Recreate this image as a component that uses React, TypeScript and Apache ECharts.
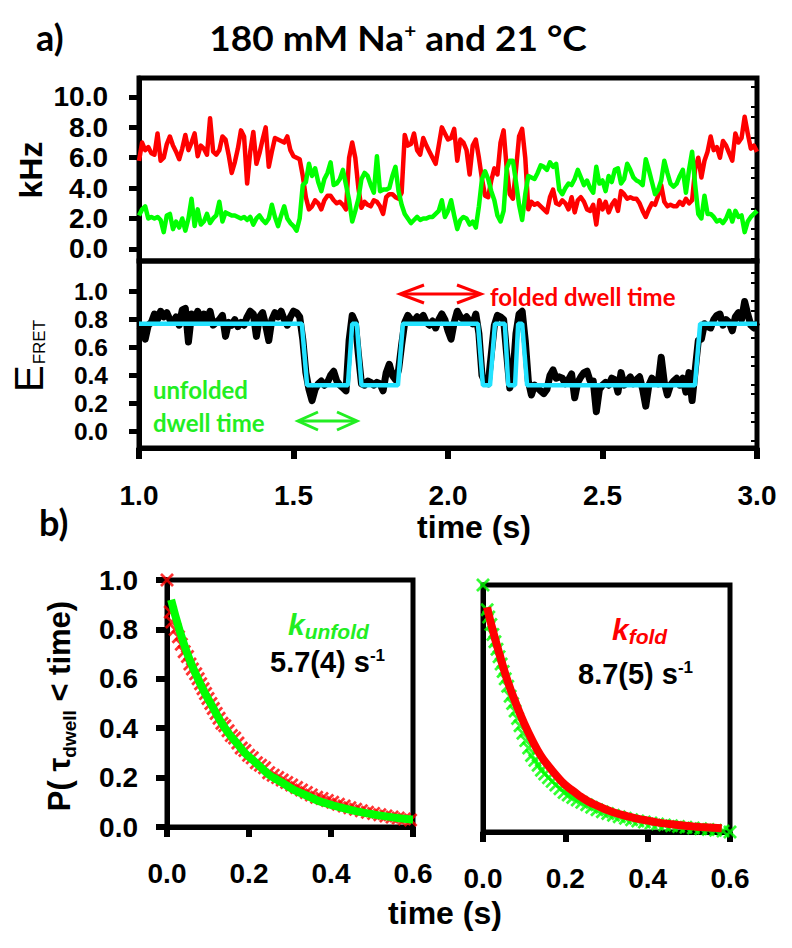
import React, { useEffect, useRef } from 'react';
import * as echarts from 'echarts';

// ---------- data ----------
const T_START = 1.0;
const T_STEP = 0.01;

const RED_KHZ = [
  5.8, 7.0, 6.5, 6.7, 6.3, 6.2, 7.6, 5.8, 6.0, 6.9,
  7.4, 6.8, 6.4, 5.9, 6.6, 7.5, 6.5, 7.0, 7.6, 6.1,
  6.8, 6.6, 6.2, 8.6, 6.4, 6.2, 6.5, 7.4, 7.2, 6.2,
  5.0, 5.7, 6.6, 7.8, 7.4, 4.3, 6.4, 7.7, 5.6, 6.3,
  7.2, 8.0, 5.4, 6.4, 7.3, 7.2, 7.1, 7.0, 7.4, 6.5,
  6.1, 6.0, 5.9, 4.8, 3.4, 2.6, 2.8, 3.2, 3.0, 2.6,
  3.2, 3.5, 3.5, 3.2, 3.0, 3.1, 2.9, 2.6, 6.0, 7.0,
  6.0, 4.0, 2.7, 3.1, 2.9, 2.8, 3.2, 3.1, 2.8, 2.3,
  3.4, 3.6, 3.6, 3.4, 3.3, 3.7, 7.5, 6.8, 6.9, 7.6,
  6.5, 6.2, 7.3, 6.8, 6.4, 6.0, 5.6, 6.8, 8.0, 7.6,
  7.2, 7.3, 7.9, 5.8, 7.2, 7.0, 6.5, 4.9, 6.8, 7.2,
  6.0, 4.6, 3.5, 3.4, 4.5, 5.3, 4.9, 7.0, 7.8, 5.3,
  3.6, 3.3, 5.2, 7.4, 7.9, 6.0, 2.6, 3.1, 2.9, 3.0,
  2.8, 2.6, 2.4, 3.4, 3.9, 3.0, 2.9, 3.2, 3.0, 2.6,
  3.4, 2.4, 3.2, 3.4, 3.1, 2.6, 2.5, 2.9, 1.6, 3.2,
  2.6, 3.1, 2.4, 2.9, 3.2, 2.5, 3.8, 3.6, 3.3, 3.4,
  3.3, 3.3, 3.0, 2.5, 2.1, 2.6, 3.0, 2.9, 3.5, 4.2,
  3.1, 2.8, 2.9, 2.8, 2.8, 3.1, 2.9, 3.3, 3.0, 3.2,
  5.3, 6.0, 4.7, 5.8, 6.4, 7.4, 6.5, 6.7, 6.0, 7.1,
  6.8, 6.3, 5.8, 7.6, 7.0, 7.3, 8.7, 7.6, 6.6, 6.8,
  6.4,
];

const GREEN_KHZ = [
  2.2, 2.6, 2.8, 2.0, 2.1, 2.0, 2.1, 1.9, 1.1, 2.2,
  2.3, 1.3, 1.8, 1.4, 2.0, 1.2, 2.0, 3.3, 1.5, 2.6,
  1.6, 1.8, 2.3, 1.7, 2.0, 2.2, 3.1, 1.8, 2.4, 2.3,
  2.2, 2.2, 2.1, 2.0, 2.1, 1.9, 2.1, 1.6, 2.0, 2.2,
  1.9, 1.7, 2.0, 2.9, 2.1, 1.5, 2.2, 2.8, 2.0, 1.7,
  1.5, 1.2, 2.0, 4.2, 4.4, 5.6, 4.8, 5.3, 4.4, 3.8,
  4.6, 5.0, 5.7, 4.2, 4.3, 4.6, 5.2, 4.2, 3.2, 1.8,
  2.5, 3.3, 4.6, 5.0, 4.8, 4.2, 3.7, 6.1, 3.8, 3.9,
  3.9, 4.0, 4.8, 5.4, 3.8, 2.9, 2.3, 2.0, 1.7, 1.9,
  2.1, 1.9, 2.0, 2.0, 2.1, 2.1, 2.3, 2.5, 3.2, 2.1,
  2.5, 3.2, 2.2, 1.3, 1.9, 2.1, 2.0, 1.6, 1.8, 1.4,
  2.8, 4.6, 5.1, 4.6, 3.8, 3.2, 2.2, 1.8, 2.5, 5.3,
  5.8, 5.8, 4.4, 2.9, 1.9, 3.6, 4.8, 4.7, 4.6, 5.0,
  5.5, 5.4, 5.2, 5.7, 5.4, 5.6, 3.9, 3.6, 4.0, 4.3,
  4.2, 4.6, 5.2, 4.7, 4.2, 4.5, 4.0, 3.7, 5.4, 4.3,
  4.5, 3.8, 4.8, 4.4, 5.2, 5.3, 4.3, 4.6, 5.6, 5.2,
  4.7, 4.5, 4.4, 4.2, 5.9, 5.2, 4.4, 3.6, 3.9, 4.5,
  5.8, 5.0, 4.3, 4.1, 4.3, 4.8, 5.2, 3.7, 5.2, 6.4,
  4.2, 2.3, 2.0, 3.5, 2.3, 2.3, 2.1, 1.8, 1.9, 1.7,
  2.0, 2.5, 1.8, 2.5, 2.1, 2.2, 1.1, 1.8, 2.1, 2.3,
  2.5,
];

const E_FRET = [
  0.72, 0.74, 0.66, 0.76, 0.78, 0.84, 0.80, 0.86, 0.82, 0.85,
  0.80, 0.78, 0.82, 0.76, 0.87, 0.88, 0.64, 0.84, 0.80, 0.86,
  0.78, 0.84, 0.80, 0.86, 0.76, 0.78, 0.80, 0.83, 0.68, 0.78,
  0.76, 0.80, 0.75, 0.78, 0.76, 0.82, 0.86, 0.84, 0.68, 0.82,
  0.85, 0.76, 0.65, 0.80, 0.85, 0.82, 0.86, 0.80, 0.76, 0.82,
  0.86, 0.85, 0.82, 0.66, 0.42, 0.30, 0.22, 0.30, 0.34, 0.36,
  0.33, 0.35, 0.40, 0.43, 0.36, 0.33, 0.31, 0.29, 0.65, 0.83,
  0.78, 0.55, 0.34, 0.33, 0.36, 0.35, 0.33, 0.35, 0.34, 0.29,
  0.42, 0.48, 0.40, 0.37, 0.44, 0.62, 0.78, 0.83, 0.80, 0.79,
  0.82, 0.80, 0.83, 0.78, 0.76, 0.79, 0.74, 0.80, 0.84, 0.80,
  0.72, 0.66, 0.78, 0.86, 0.82, 0.80, 0.82, 0.79, 0.77, 0.84,
  0.70, 0.40, 0.35, 0.34, 0.55, 0.76, 0.83, 0.82, 0.80, 0.55,
  0.31, 0.40, 0.70, 0.84, 0.86, 0.65, 0.36, 0.26, 0.33, 0.31,
  0.29, 0.27, 0.30, 0.40, 0.44, 0.38, 0.39, 0.38, 0.34, 0.37,
  0.41, 0.24, 0.35, 0.39, 0.42, 0.43, 0.36, 0.36, 0.14, 0.30,
  0.33, 0.35, 0.33, 0.38, 0.37, 0.28, 0.42, 0.33, 0.36, 0.39,
  0.34, 0.37, 0.39, 0.30, 0.18, 0.33, 0.38, 0.36, 0.34, 0.53,
  0.35, 0.26, 0.33, 0.36, 0.38, 0.33, 0.38, 0.28, 0.42, 0.22,
  0.44, 0.65, 0.66, 0.77, 0.75, 0.74, 0.80, 0.83, 0.84, 0.76,
  0.80, 0.78, 0.72, 0.82, 0.85, 0.80, 0.93, 0.84, 0.76, 0.74,
  0.78,
];

// idealised two-state trajectory: transition times and levels
const STEP_T = [1.0, 1.527, 1.544, 1.676, 1.69, 1.705, 1.72, 1.838, 1.854, 2.097, 2.113, 2.136, 2.152, 2.184, 2.195, 2.217, 2.227, 2.24, 2.256, 2.799, 2.816, 3.0];
const STEP_E = [0.77, 0.77, 0.33, 0.33, 0.77, 0.77, 0.33, 0.33, 0.77, 0.77, 0.33, 0.33, 0.77, 0.77, 0.33, 0.33, 0.77, 0.77, 0.33, 0.33, 0.77, 0.77];

// unfolded dwell-time survival (red markers) and fit (green)
const UNFOLD_T = [0.000, 0.008, 0.012, 0.020, 0.028, 0.035, 0.042, 0.050, 0.056, 0.062, 0.070, 0.076, 0.082, 0.088, 0.094, 0.100, 0.107, 0.113, 0.120, 0.127, 0.134, 0.141, 0.149, 0.157, 0.165, 0.173, 0.181, 0.190, 0.199, 0.208, 0.218, 0.228, 0.238, 0.248, 0.259, 0.270, 0.281, 0.292, 0.304, 0.316, 0.328, 0.340, 0.352, 0.365, 0.378, 0.391, 0.404, 0.418, 0.432, 0.446, 0.460, 0.474, 0.489, 0.504, 0.519, 0.534, 0.549, 0.564, 0.579, 0.594];
const UNFOLD_P = [1.00, 0.87, 0.83, 0.80, 0.77, 0.74, 0.71, 0.69, 0.66, 0.64, 0.62, 0.60, 0.58, 0.56, 0.54, 0.52, 0.50, 0.48, 0.46, 0.44, 0.42, 0.41, 0.39, 0.37, 0.36, 0.34, 0.32, 0.31, 0.29, 0.28, 0.26, 0.25, 0.24, 0.22, 0.21, 0.20, 0.19, 0.18, 0.17, 0.16, 0.15, 0.14, 0.13, 0.12, 0.115, 0.107, 0.10, 0.092, 0.085, 0.078, 0.072, 0.066, 0.060, 0.055, 0.050, 0.045, 0.040, 0.036, 0.032, 0.028];
const UNFOLD_FIT_T = [0.01, 0.03, 0.05, 0.07, 0.09, 0.11, 0.13, 0.15, 0.17, 0.19, 0.21, 0.23, 0.25, 0.27, 0.29, 0.31, 0.33, 0.35, 0.37, 0.39, 0.41, 0.43, 0.45, 0.47, 0.49, 0.51, 0.53, 0.55, 0.57, 0.59, 0.60];
const UNFOLD_FIT_P = [0.92, 0.80, 0.70, 0.62, 0.55, 0.49, 0.43, 0.38, 0.34, 0.30, 0.27, 0.24, 0.21, 0.19, 0.17, 0.15, 0.135, 0.12, 0.105, 0.095, 0.085, 0.076, 0.068, 0.061, 0.055, 0.049, 0.044, 0.039, 0.035, 0.031, 0.030];

// folded dwell-time survival (green markers) and fit (red)
const FOLD_T = [0.000, 0.010, 0.014, 0.019, 0.024, 0.029, 0.034, 0.039, 0.044, 0.049, 0.054, 0.060, 0.066, 0.072, 0.078, 0.084, 0.090, 0.097, 0.104, 0.111, 0.118, 0.126, 0.134, 0.142, 0.150, 0.159, 0.168, 0.177, 0.187, 0.197, 0.207, 0.218, 0.229, 0.240, 0.252, 0.264, 0.277, 0.290, 0.303, 0.317, 0.331, 0.346, 0.361, 0.376, 0.392, 0.408, 0.424, 0.441, 0.458, 0.475, 0.493, 0.511, 0.529, 0.547, 0.565, 0.583, 0.600];
const FOLD_P = [1.00, 0.90, 0.87, 0.84, 0.80, 0.77, 0.74, 0.71, 0.68, 0.65, 0.62, 0.59, 0.55, 0.52, 0.49, 0.46, 0.43, 0.40, 0.37, 0.34, 0.31, 0.29, 0.27, 0.25, 0.235, 0.22, 0.205, 0.19, 0.175, 0.16, 0.15, 0.14, 0.13, 0.12, 0.11, 0.10, 0.09, 0.082, 0.075, 0.068, 0.062, 0.056, 0.05, 0.045, 0.04, 0.036, 0.032, 0.028, 0.025, 0.022, 0.019, 0.016, 0.013, 0.01, 0.007, 0.004, 0.0];
const FOLD_FIT_T = [0.01, 0.02, 0.04, 0.06, 0.08, 0.10, 0.12, 0.14, 0.16, 0.18, 0.20, 0.22, 0.24, 0.26, 0.28, 0.30, 0.32, 0.34, 0.36, 0.38, 0.40, 0.42, 0.44, 0.46, 0.48, 0.50, 0.52, 0.54, 0.56, 0.58];
const FOLD_FIT_P = [0.91, 0.84, 0.72, 0.61, 0.52, 0.44, 0.37, 0.31, 0.265, 0.225, 0.19, 0.165, 0.14, 0.12, 0.105, 0.09, 0.078, 0.068, 0.06, 0.052, 0.046, 0.04, 0.035, 0.031, 0.027, 0.024, 0.021, 0.019, 0.017, 0.015];

// tick values
const KHZ_TICKS = [0, 2, 4, 6, 8, 10];
const KHZ_MINOR = [-0.667, 0.667, 1.333, 2.667, 3.333, 4.667, 5.333, 6.667, 7.333, 8.667, 9.333, 10.667];
const E_TICKS = [0, 0.2, 0.4, 0.6, 0.8, 1.0];
const E_MINOR = [-0.067, 0.067, 0.133, 0.267, 0.333, 0.467, 0.533, 0.667, 0.733, 0.867, 0.933, 1.067, 1.133];

// ---------- styling helpers ----------
const ARIAL = '"Liberation Sans", Arial, sans-serif';
const CALIBRI = 'Lato, "Open Sans", sans-serif';
const RED = '#ff0000';
const GREEN = '#00ff00';
const GREEN_TXT = '#22ee22';
const CYAN = '#22e2ff';
const X_MARK = 'path://M0,1.4L1.4,0L5,3.6L8.6,0L10,1.4L6.4,5L10,8.6L8.6,10L5,6.4L1.4,10L0,8.6L3.6,5Z';

const tickLabel = { fontFamily: ARIAL, fontWeight: 'bold', fontSize: 28, lineHeight: 26, color: '#000' };
const fmt1 = (v: number) => Number(v).toFixed(1);
const AXLINE = { show: true, onZero: false, lineStyle: { color: '#000', width: 5 } };

function series(t: number[], v: number[]) {
  return t.map((x, i) => [x, v[i]]);
}
function timeSeries(v: number[]) {
  return v.map((y, i) => [Number((T_START + i * T_STEP).toFixed(2)), y]);
}

function dblArrow(x1: number, x2: number, y: number, color: string, head: number, half: number) {
  const s = { stroke: color, lineWidth: 3, fill: null as any, lineJoin: 'miter' };
  return [
    { type: 'line', shape: { x1: x1 + 1, y1: y, x2: x2 - 1, y2: y }, style: s, silent: true },
    { type: 'polyline', shape: { points: [[x1 + head, y - half], [x1, y], [x1 + head, y + half]] }, style: s, silent: true },
    { type: 'polyline', shape: { points: [[x2 - head, y - half], [x2, y], [x2 - head, y + half]] }, style: s, silent: true },
  ];
}

function txt(x: number, y: number, text: string, font: any, align = 'left', extra: any = {}) {
  return {
    type: 'text', x, y, silent: true, ...extra,
    style: { text, fill: font.color || '#000', fontFamily: font.family, fontSize: font.size, fontWeight: font.weight || 'bold', fontStyle: font.style || 'normal', align, verticalAlign: 'middle', textAlign: align, textVerticalAlign: 'middle', ...(font.rich ? { rich: font.rich } : {}) },
  };
}

const frameGrid = (left: number, top: number, width: number, height: number) => ({
  left, top, width, height, show: true, borderColor: '#000', borderWidth: 5, backgroundColor: 'transparent', containLabel: false,
});

const hiddenAxis = { axisLine: { show: false, onZero: false }, axisTick: { show: false }, axisLabel: { show: false }, splitLine: { show: false } };

function buildOption() {
  const graphic: any[] = [
    txt(36, 37, 'a)', { family: CALIBRI, size: 36 }),
    txt(398, 40, '{a|180 mM Na}{b|+}{a| and 21 °C}', {
      family: CALIBRI, size: 34,
      rich: {
        a: { fontFamily: CALIBRI, fontSize: 34, fontWeight: 'bold', fill: '#000', color: '#000', lineHeight: 38, verticalAlign: 'top' },
        b: { fontFamily: CALIBRI, fontSize: 19, fontWeight: 'bold', fill: '#000', color: '#000', lineHeight: 20, verticalAlign: 'top' },
      },
    }, 'center', { scaleX: 1.09 }),
    txt(31, 170, 'kHz', { family: ARIAL, size: 32 }, 'center', { rotation: Math.PI / 2 }),
    txt(30, 356, '{e|E}{s|FRET}', {
      family: ARIAL, size: 40,
      rich: {
        e: { fontFamily: ARIAL, fontSize: 40, fontWeight: 'normal', lineHeight: 42, verticalAlign: 'top' },
        s: { fontFamily: ARIAL, fontSize: 17, fontWeight: 'normal', lineHeight: 18, verticalAlign: 'top', padding: [22, 0, 0, 1] },
      },
    }, 'center', { rotation: Math.PI / 2 }),
    txt(153, 389, 'unfolded', { family: CALIBRI, size: 24, color: GREEN_TXT }),
    txt(153, 422, 'dwell time', { family: CALIBRI, size: 24, color: GREEN_TXT }),
    txt(490, 296, 'folded dwell time', { family: CALIBRI, size: 24, color: RED }),
    ...dblArrow(400, 481, 294, RED, 24, 9),
    ...dblArrow(298, 357, 421, '#22ee22', 20, 9),
    txt(474, 527, 'time (s)', { family: ARIAL, size: 32 }, 'center'),
    txt(39, 522, 'b)', { family: CALIBRI, size: 36 }),
    txt(61, 706, '{m|P( τ}{s|dwell}{m| < time)}', {
      family: ARIAL, size: 31,
      rich: {
        m: { fontFamily: ARIAL, fontSize: 31, fontWeight: 'bold', lineHeight: 34, verticalAlign: 'top' },
        s: { fontFamily: ARIAL, fontSize: 19, fontWeight: 'bold', lineHeight: 20, verticalAlign: 'top', padding: [16, 0, 0, 0] },
      },
    }, 'center', { rotation: Math.PI / 2 }),
    txt(445, 913, 'time (s)', { family: ARIAL, size: 32 }, 'center'),
    txt(288, 625, '{k|k}{s|unfold}', {
      family: ARIAL, size: 30,
      rich: {
        k: { fontFamily: ARIAL, fontSize: 30, fontWeight: 'bold', fontStyle: 'italic', fill: GREEN_TXT, color: GREEN_TXT, lineHeight: 32, verticalAlign: 'top' },
        s: { fontFamily: ARIAL, fontSize: 21, fontWeight: 'bold', fontStyle: 'italic', fill: GREEN_TXT, color: GREEN_TXT, lineHeight: 22, verticalAlign: 'top', padding: [12, 0, 0, 0] },
      },
    }),
    txt(270, 663, '{n|5.7(4) s}{p|-1}', {
      family: ARIAL, size: 29,
      rich: {
        n: { fontFamily: ARIAL, fontSize: 29, fontWeight: 'bold', lineHeight: 32, verticalAlign: 'top' },
        p: { fontFamily: ARIAL, fontSize: 17, fontWeight: 'bold', lineHeight: 18, verticalAlign: 'top' },
      },
    }),
    txt(612, 630, '{k|k}{s|fold}', {
      family: ARIAL, size: 30,
      rich: {
        k: { fontFamily: ARIAL, fontSize: 30, fontWeight: 'bold', fontStyle: 'italic', fill: RED, color: RED, lineHeight: 32, verticalAlign: 'top' },
        s: { fontFamily: ARIAL, fontSize: 21, fontWeight: 'bold', fontStyle: 'italic', fill: RED, color: RED, lineHeight: 22, verticalAlign: 'top', padding: [12, 0, 0, 0] },
      },
    }),
    txt(578, 675, '{n|8.7(5) s}{p|-1}', {
      family: ARIAL, size: 29,
      rich: {
        n: { fontFamily: ARIAL, fontSize: 29, fontWeight: 'bold', lineHeight: 32, verticalAlign: 'top' },
        p: { fontFamily: ARIAL, fontSize: 17, fontWeight: 'bold', lineHeight: 18, verticalAlign: 'top' },
      },
    }),
  ];

  const yLabel = (extra: any) => ({ ...tickLabel, margin: 31, formatter: fmt1, ...extra });

  return {
    animation: false,
    backgroundColor: '#ffffff',
    grid: [
      frameGrid(139, 78, 618, 183),
      frameGrid(139, 261, 618, 187),
      frameGrid(167, 580, 246, 247),
      frameGrid(483, 585, 247, 247),
    ],
    xAxis: [
      { type: 'value', gridIndex: 0, min: 1, max: 3, ...hiddenAxis },
      {
        type: 'value', gridIndex: 1, min: 1, max: 3, interval: 0.5,
        axisLine: AXLINE,
        axisTick: { show: true, length: 11, lineStyle: { color: '#000', width: 6 } },
        axisLabel: { ...tickLabel, margin: 34, formatter: fmt1 },
        splitLine: { show: false },
      },
      {
        type: 'value', gridIndex: 2, min: 0, max: 0.6, interval: 0.2,
        axisLine: AXLINE,
        axisTick: { show: true, length: 10, lineStyle: { color: '#000', width: 6 } },
        axisLabel: { ...tickLabel, margin: 33, formatter: fmt1 },
        splitLine: { show: false },
      },
      {
        type: 'value', gridIndex: 3, min: 0, max: 0.6, interval: 0.2,
        axisLine: AXLINE,
        axisTick: { show: true, length: 10, lineStyle: { color: '#000', width: 6 } },
        axisLabel: { ...tickLabel, margin: 33, formatter: fmt1 },
        splitLine: { show: false },
      },
    ],
    yAxis: [
      {
        type: 'value', gridIndex: 0, min: -0.8, max: 11.25,
        axisLine: AXLINE,
        axisTick: { show: true, length: 10, customValues: KHZ_TICKS, lineStyle: { color: '#000', width: 5 } },
        axisLabel: yLabel({ customValues: KHZ_TICKS }),
        splitLine: { show: false },
      },
      {
        type: 'value', gridIndex: 0, min: -0.8, max: 11.25,
        axisLine: { show: false, onZero: false }, axisLabel: { show: false }, splitLine: { show: false },
        axisTick: { show: true, inside: true, length: 6, customValues: KHZ_MINOR, lineStyle: { color: '#000', width: 2 } },
      },
      {
        type: 'value', gridIndex: 1, min: -0.12, max: 1.22,
        axisLine: AXLINE,
        axisTick: { show: true, length: 10, customValues: E_TICKS, lineStyle: { color: '#000', width: 5 } },
        axisLabel: yLabel({ customValues: E_TICKS, fontSize: 24.5, lineHeight: 24 }),
        splitLine: { show: false },
      },
      {
        type: 'value', gridIndex: 1, min: -0.12, max: 1.22,
        axisLine: { show: false, onZero: false }, axisLabel: { show: false }, splitLine: { show: false },
        axisTick: { show: true, inside: true, length: 6, customValues: E_MINOR, lineStyle: { color: '#000', width: 2 } },
      },
      {
        type: 'value', gridIndex: 2, min: 0, max: 1, interval: 0.2,
        axisLine: AXLINE,
        axisTick: { show: true, length: 11, lineStyle: { color: '#000', width: 6 } },
        axisLabel: yLabel({ margin: 29 }),
        splitLine: { show: false },
      },
      {
        type: 'value', gridIndex: 3, min: 0, max: 1, interval: 0.2,
        axisLine: AXLINE,
        axisTick: { show: false }, axisLabel: { show: false }, splitLine: { show: false },
      },
    ],
    series: [
      { type: 'line', name: 'acceptor', xAxisIndex: 0, yAxisIndex: 0, data: timeSeries(RED_KHZ), showSymbol: false, symbol: 'none', lineStyle: { color: RED, width: 4.5, join: 'round' }, z: 3 },
      { type: 'line', name: 'donor', xAxisIndex: 0, yAxisIndex: 0, data: timeSeries(GREEN_KHZ), showSymbol: false, symbol: 'none', lineStyle: { color: GREEN, width: 4.5, join: 'round' }, z: 4 },
      { type: 'line', name: 'EFRET', xAxisIndex: 1, yAxisIndex: 2, data: timeSeries(E_FRET), showSymbol: false, symbol: 'none', lineStyle: { color: '#000', width: 7, join: 'round' }, z: 3 },
      { type: 'line', name: 'HMM', xAxisIndex: 1, yAxisIndex: 2, data: series(STEP_T, STEP_E), showSymbol: false, symbol: 'none', lineStyle: { color: CYAN, width: 4.5 }, z: 4 },
      { type: 'scatter', name: 'unfolded dwell', xAxisIndex: 2, yAxisIndex: 4, data: series(UNFOLD_T, UNFOLD_P), symbol: X_MARK, symbolSize: 14, itemStyle: { color: RED }, clip: false, z: 3 },
      { type: 'line', name: 'unfold fit', xAxisIndex: 2, yAxisIndex: 4, data: series(UNFOLD_FIT_T, UNFOLD_FIT_P), showSymbol: false, symbol: 'none', smooth: true, lineStyle: { color: GREEN, width: 8 }, z: 4 },
      { type: 'scatter', name: 'folded dwell', xAxisIndex: 3, yAxisIndex: 5, data: series(FOLD_T, FOLD_P), symbol: X_MARK, symbolSize: 14, itemStyle: { color: GREEN }, clip: false, z: 3 },
      { type: 'line', name: 'fold fit', xAxisIndex: 3, yAxisIndex: 5, data: series(FOLD_FIT_T, FOLD_FIT_P), showSymbol: false, symbol: 'none', smooth: true, lineStyle: { color: RED, width: 8 }, z: 4 },
    ],
    graphic,
  };
}

export default function App() {
  const ref = useRef<HTMLDivElement>(null);
  useEffect(() => {
    if (!ref.current) return;
    const chart = echarts.init(ref.current, null, { renderer: 'svg' });
    chart.setOption(buildOption() as any);
    return () => chart.dispose();
  }, []);
  return (
    <div
      ref={ref}
      style={{ position: 'absolute', left: 0, top: 0, width: 792, height: 948, background: '#fff' }}
    />
  );
}
